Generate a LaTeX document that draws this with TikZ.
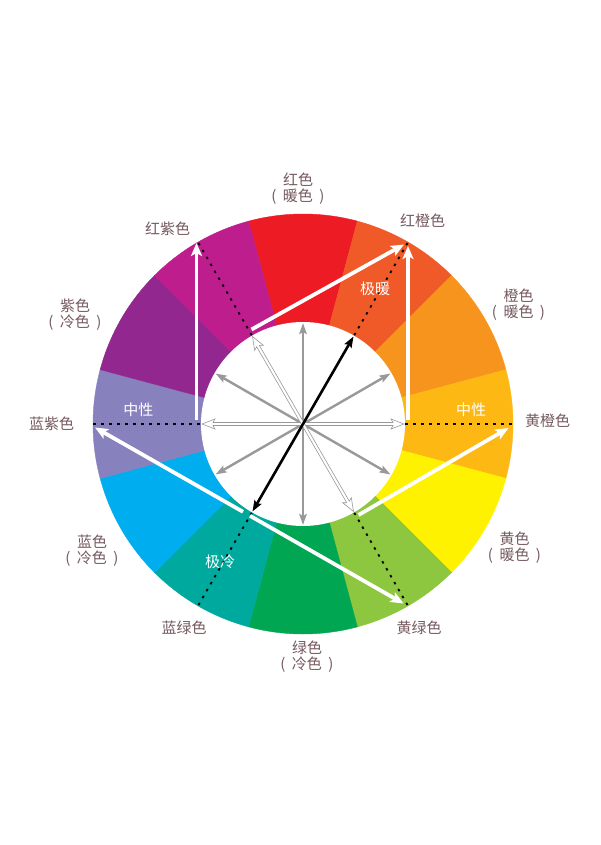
\documentclass[tikz,border=0pt]{standalone}
\usepackage{fontspec}
\setmainfont{Noto Sans CJK SC}
\usetikzlibrary{arrows.meta,calc}
\definecolor{cR}{HTML}{ED1C24}
\definecolor{cRO}{HTML}{F05A28}
\definecolor{cO}{HTML}{F7941D}
\definecolor{cYO}{HTML}{FDB813}
\definecolor{cY}{HTML}{FFF200}
\definecolor{cYG}{HTML}{8DC63F}
\definecolor{cG}{HTML}{00A651}
\definecolor{cBG}{HTML}{00A99D}
\definecolor{cB}{HTML}{00AEEF}
\definecolor{cBV}{HTML}{8781BD}
\definecolor{cV}{HTML}{92278F}
\definecolor{cRV}{HTML}{BE1E8D}
\definecolor{labcol}{HTML}{765A60}
\definecolor{arrgray}{HTML}{999999}
\newcommand{\pw}[1]{(\hspace{6.5pt}#1\hspace{6.5pt})}
\tikzset{
  lab/.style={text=labcol, font=\fontsize{15}{16}\selectfont, align=center, inner sep=0pt},
  wlab/.style={text=white, font=\fontsize{15}{16}\selectfont, inner sep=0pt},
  grayarr/.style={draw=arrgray, line width=2.4pt, {Stealth[length=11pt,width=7.5pt,inset=2pt]}-{Stealth[length=11pt,width=7.5pt,inset=2pt]}},
  blackarr/.style={draw=black, line width=2.6pt, {Stealth[length=11pt,width=8pt,inset=2pt]}-{Stealth[length=11pt,width=8pt,inset=2pt]}},
  hollowarr/.style={draw=arrgray, fill=white, line width=0.6pt, line join=miter},
  dotline/.style={draw=black, line width=1.8pt, dash pattern=on 2.5pt off 5.5pt},
  dashline/.style={draw=black, line width=1.8pt, dash pattern=on 3pt off 5pt},
  whitearr/.style={draw=white, line width=3.8pt, -{Stealth[length=13pt,width=11pt,inset=3pt]}},
  whitearrs/.style={draw=white, line width=3.8pt, {Stealth[length=13pt,width=11pt,inset=3pt]}-}
}
\begin{document}
\begin{tikzpicture}[x=1pt,y=1pt]
\useasboundingbox (0,0) rectangle (600,-845);
\fill[white] (0,0) rectangle (600,-845);
\coordinate (C) at (303,-424);
% colour ring
\foreach \a/\c in {90/cR,60/cRO,30/cO,0/cYO,-30/cY,-60/cYG,-90/cG,-120/cBG,-150/cB,180/cBV,150/cV,120/cRV}{
  \path[fill=\c, draw=\c, line width=0.4pt] (C) -- ($(C)+({\a-15}:210)$) arc[start angle={\a-15}, end angle={\a+15}, radius=210] -- cycle;
}
\fill[white] (C) circle (102);
% named points on circles
\foreach \a in {0,30,60,90,120,150,180,-30,-60,-90,-120,-150}{
  \coordinate (i\a) at ($(C)+(\a:101)$);
}
\foreach \a in {60,120,-60,-120}{
  \coordinate (d\a) at ($(C)+(\a:102.5)$);
  \coordinate (o\a) at ($(C)+(\a:209)$);
}
% gray double arrows
\draw[grayarr] (i90) -- (i-90);
\draw[grayarr] (i30) -- (i-150);
\draw[grayarr] (i150) -- (i-30);
% hollow double arrows
\foreach \a in {0,120}{
  \begin{scope}[shift={(C)}, rotate=\a]
    \draw[hollowarr] (-101,0) -- (-88,5) -- (-90,1.5) -- (90,1.5) -- (88,5) -- (101,0) -- (88,-5) -- (90,-1.5) -- (-90,-1.5) -- (-88,-5) -- cycle;
  \end{scope}
}
% black double arrow
\draw[blackarr] (i60) -- (i-120);
% dotted radial lines
\draw[dotline] (d60) -- (o60);
\draw[dotline] (d120) -- (o120);
\draw[dotline] (d-60) -- (o-60);
\draw[dotline] (d-120) -- (o-120);
% dashed horizontal lines
\coordinate (hl1) at (93,-424);
\coordinate (hl2) at (201,-424);
\coordinate (hr1) at (405,-424);
\coordinate (hr2) at (513,-424);
\draw[dashline] (hl1) -- (hl2);
\draw[dashline] (hr1) -- (hr2);
% white arrows
\coordinate (a1s) at (251.5,-329.5);
\coordinate (a1e) at (404,-244.5);
\draw[whitearr] (a1s) -- (a1e);
\coordinate (a2s) at (196.5,-420);
\coordinate (a2e) at (196.5,-243);
\draw[whitearr] (a2s) -- (a2e);
\coordinate (a3s) at (408,-420);
\coordinate (a3e) at (408,-246);
\draw[whitearr] (a3s) -- (a3e);
\coordinate (a4s) at (358.5,-515);
\coordinate (a4e) at (508.5,-428);
\draw[whitearr] (a4s) -- (a4e);
\coordinate (a5s) at (95,-427.5);
\coordinate (a5m) at (243,-511.8);
\coordinate (a5n) at (250,-515.8);
\coordinate (a5e) at (403.5,-603.5);
\draw[whitearrs] (a5s) -- (a5m);
\draw[whitearr] (a5n) -- (a5e);
% white labels
\node[wlab] (neuL) at (138.3,-409.5) {中性};
\node[wlab] (neuR) at (471,-409.5) {中性};
\node[wlab] (hot) at (375,-288.5) {极暖};
\node[wlab] (cold) at (220,-561.5) {极冷};
% outer labels
\node[lab] (lR) at (298,-189) {红色\\\pw{暖色}};
\node[lab] (lRO) at (422.5,-220.5) {红橙色};
\node[lab] (lO) at (518.5,-305) {橙色\\\pw{暖色}};
\node[lab] (lYO) at (547.5,-421) {黄橙色};
\node[lab] (lY) at (514.5,-547.5) {黄色\\\pw{暖色}};
\node[lab] (lYG) at (419,-627.5) {黄绿色};
\node[lab] (lG) at (307,-657) {绿色\\\pw{冷色}};
\node[lab] (lBG) at (184,-627.5) {蓝绿色};
\node[lab] (lB) at (92,-550.5) {蓝色\\\pw{冷色}};
\node[lab] (lBV) at (51.7,-424) {蓝紫色};
\node[lab] (lV) at (75,-314.7) {紫色\\\pw{冷色}};
\node[lab] (lRV) at (167.5,-229) {红紫色};
\end{tikzpicture}
\end{document}
